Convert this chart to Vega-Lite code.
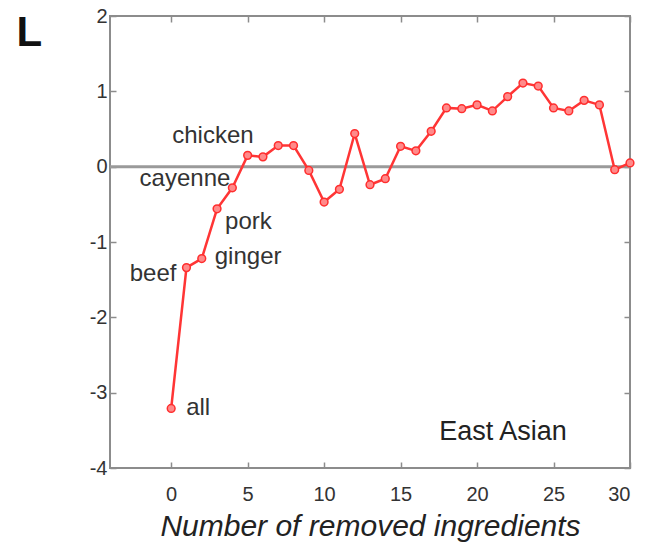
{
  "$schema": "https://vega.github.io/schema/vega-lite/v6.json",
  "width": 520,
  "height": 452,
  "autosize": {"type": "none"},
  "padding": {"left": 110, "top": 16, "right": 19, "bottom": 77},
  "background": "white",
  "config": {
    "font": "Liberation Sans",
    "view": {"stroke": "#8c8c8c", "strokeWidth": 2},
    "axis": {
      "grid": false,
      "domain": false,
      "tickColor": "#8c8c8c",
      "tickSize": -6,
      "tickWidth": 1.5,
      "labelColor": "#333333",
      "labelFontSize": 20,
      "labelFont": "Liberation Sans"
    }
  },
  "datasets": {
    "curve": [
      {"n": 0, "v": -3.21, "ingredient": "all"},
      {"n": 1, "v": -1.34, "ingredient": "beef"},
      {"n": 2, "v": -1.22, "ingredient": "ginger"},
      {"n": 3, "v": -0.56, "ingredient": "pork"},
      {"n": 4, "v": -0.28, "ingredient": "cayenne"},
      {"n": 5, "v": 0.15, "ingredient": "chicken"},
      {"n": 6, "v": 0.13, "ingredient": ""},
      {"n": 7, "v": 0.28, "ingredient": ""},
      {"n": 8, "v": 0.28, "ingredient": ""},
      {"n": 9, "v": -0.05, "ingredient": ""},
      {"n": 10, "v": -0.47, "ingredient": ""},
      {"n": 11, "v": -0.3, "ingredient": ""},
      {"n": 12, "v": 0.44, "ingredient": ""},
      {"n": 13, "v": -0.24, "ingredient": ""},
      {"n": 14, "v": -0.16, "ingredient": ""},
      {"n": 15, "v": 0.27, "ingredient": ""},
      {"n": 16, "v": 0.21, "ingredient": ""},
      {"n": 17, "v": 0.47, "ingredient": ""},
      {"n": 18, "v": 0.78, "ingredient": ""},
      {"n": 19, "v": 0.77, "ingredient": ""},
      {"n": 20, "v": 0.82, "ingredient": ""},
      {"n": 21, "v": 0.74, "ingredient": ""},
      {"n": 22, "v": 0.93, "ingredient": ""},
      {"n": 23, "v": 1.11, "ingredient": ""},
      {"n": 24, "v": 1.07, "ingredient": ""},
      {"n": 25, "v": 0.78, "ingredient": ""},
      {"n": 26, "v": 0.74, "ingredient": ""},
      {"n": 27, "v": 0.88, "ingredient": ""},
      {"n": 28, "v": 0.82, "ingredient": ""},
      {"n": 29, "v": -0.04, "ingredient": ""},
      {"n": 30, "v": 0.05, "ingredient": ""}
    ],
    "note": [{"x": 21.7, "y": -3.63, "label": "East Asian"}],
    "zero": [{"y": 0}]
  },
  "resolve": {"axis": {"x": "independent", "y": "independent"}},
  "layer": [
    {
      "data": {"name": "zero"},
      "mark": {"type": "rule", "color": "#9a9a9a", "strokeWidth": 3},
      "encoding": {
        "y": {"field": "y", "type": "quantitative", "scale": {"domain": [-4, 2], "nice": false}, "axis": null}
      }
    },
    {
      "data": {"name": "curve"},
      "mark": {"type": "line", "color": "#ff3535", "strokeWidth": 2.5},
      "encoding": {
        "x": {
          "field": "n", "type": "quantitative",
          "scale": {"domain": [-4, 30], "nice": false, "zero": false},
          "axis": {
            "values": [0, 5, 10, 15, 20, 25, 30],
            "labelPadding": 22,
            "title": "Number of removed ingredients",
            "titleFont": "Liberation Sans",
            "titleFontSize": 30,
            "titleFontStyle": "italic",
            "titleFontWeight": "normal",
            "titleColor": "#222222",
            "titleBaseline": "alphabetic",
            "titleY": 67
          }
        },
        "y": {
          "field": "v", "type": "quantitative",
          "scale": {"domain": [-4, 2], "nice": false, "zero": false},
          "axis": {
            "values": [-4, -3, -2, -1, 0, 1, 2],
            "labelExpr": "'' + datum.value",
            "labelPadding": 9,
            "title": "L",
            "titleAngle": 0,
            "titleFont": "Liberation Sans",
            "titleFontSize": 42,
            "titleFontWeight": "bold",
            "titleColor": "#111111",
            "titleAlign": "left",
            "titleBaseline": "alphabetic",
            "titleX": -94,
            "titleY": 29
          }
        }
      }
    },
    {
      "data": {"name": "curve"},
      "mark": {"type": "point", "shape": "circle", "filled": true, "fill": "#ff8a8a", "stroke": "#ff2e2e", "strokeWidth": 1.5, "size": 60, "opacity": 1},
      "encoding": {
        "x": {"field": "n", "type": "quantitative", "axis": {"orient": "top", "values": [0, 5, 10, 15, 20, 25, 30], "labels": false, "title": null}},
        "y": {"field": "v", "type": "quantitative", "axis": {"orient": "right", "values": [-4, -3, -2, -1, 0, 1, 2], "labels": false, "title": null}}
      }
    },
    {
      "data": {"name": "curve"},
      "transform": [{"filter": "datum.ingredient == 'chicken'"}],
      "mark": {"type": "text", "align": "right", "baseline": "alphabetic", "dx": 6, "dy": -12, "fontSize": 24, "color": "#333333"},
      "encoding": {
        "x": {"field": "n", "type": "quantitative", "axis": null},
        "y": {"field": "v", "type": "quantitative", "axis": null},
        "text": {"field": "ingredient"}
      }
    },
    {
      "data": {"name": "curve"},
      "transform": [{"filter": "datum.ingredient == 'cayenne'"}],
      "mark": {"type": "text", "align": "right", "baseline": "alphabetic", "dx": -2, "dy": -2, "fontSize": 24, "color": "#333333"},
      "encoding": {
        "x": {"field": "n", "type": "quantitative", "axis": null},
        "y": {"field": "v", "type": "quantitative", "axis": null},
        "text": {"field": "ingredient"}
      }
    },
    {
      "data": {"name": "curve"},
      "transform": [{"filter": "datum.ingredient == 'pork'"}],
      "mark": {"type": "text", "align": "left", "baseline": "alphabetic", "dx": 8, "dy": 20, "fontSize": 24, "color": "#333333"},
      "encoding": {
        "x": {"field": "n", "type": "quantitative", "axis": null},
        "y": {"field": "v", "type": "quantitative", "axis": null},
        "text": {"field": "ingredient"}
      }
    },
    {
      "data": {"name": "curve"},
      "transform": [{"filter": "datum.ingredient == 'ginger'"}],
      "mark": {"type": "text", "align": "left", "baseline": "alphabetic", "dx": 13, "dy": 5, "fontSize": 24, "color": "#333333"},
      "encoding": {
        "x": {"field": "n", "type": "quantitative", "axis": null},
        "y": {"field": "v", "type": "quantitative", "axis": null},
        "text": {"field": "ingredient"}
      }
    },
    {
      "data": {"name": "curve"},
      "transform": [{"filter": "datum.ingredient == 'beef'"}],
      "mark": {"type": "text", "align": "right", "baseline": "alphabetic", "dx": -10, "dy": 13, "fontSize": 24, "color": "#333333"},
      "encoding": {
        "x": {"field": "n", "type": "quantitative", "axis": null},
        "y": {"field": "v", "type": "quantitative", "axis": null},
        "text": {"field": "ingredient"}
      }
    },
    {
      "data": {"name": "curve"},
      "transform": [{"filter": "datum.ingredient == 'all'"}],
      "mark": {"type": "text", "align": "left", "baseline": "alphabetic", "dx": 15, "dy": 7, "fontSize": 24, "color": "#333333"},
      "encoding": {
        "x": {"field": "n", "type": "quantitative", "axis": null},
        "y": {"field": "v", "type": "quantitative", "axis": null},
        "text": {"field": "ingredient"}
      }
    },
    {
      "data": {"name": "note"},
      "mark": {"type": "text", "align": "center", "baseline": "alphabetic", "fontSize": 27, "color": "#222222"},
      "encoding": {
        "x": {"field": "x", "type": "quantitative", "axis": null},
        "y": {"field": "y", "type": "quantitative", "axis": null},
        "text": {"field": "label"}
      }
    }
  ]
}
